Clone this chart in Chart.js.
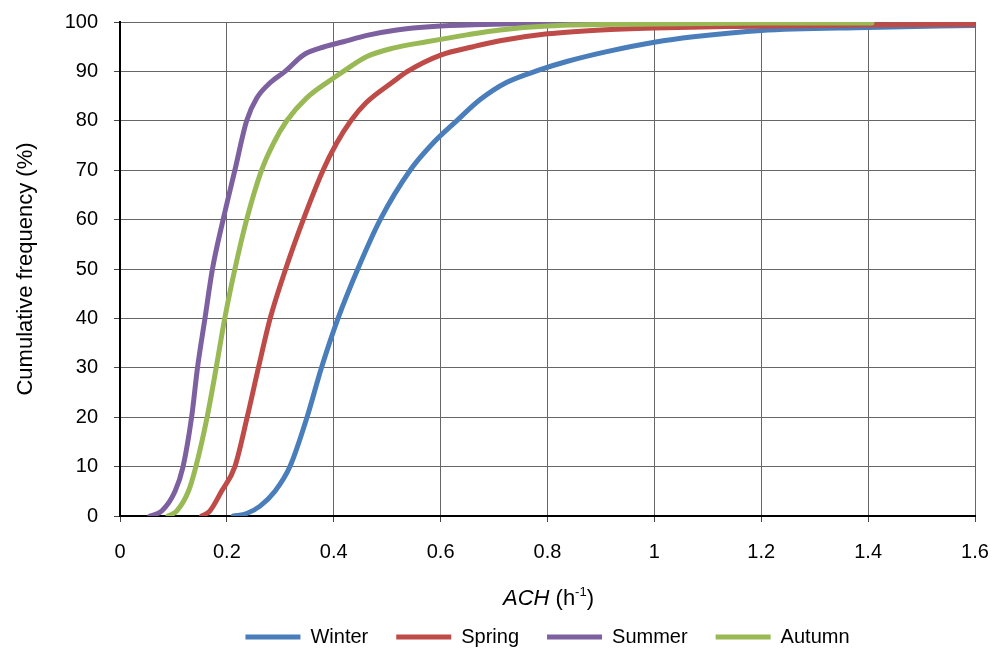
<!DOCTYPE html>
<html>
<head>
<meta charset="utf-8">
<script src="https://cdn.jsdelivr.net/npm/chart.js@4"></script>
<style>
  body { margin: 0; background: #fff; }
  #wrap { width: 995px; height: 653px; }
</style>
</head>
<body>
<div id="wrap"><canvas id="cdfChart" width="995" height="653"></canvas></div>
<script>
// series: ACH (h-1) against cumulative frequency (%)
const seriesNames = ["Winter", "Spring", "Summer", "Autumn"];

const winterAch  = [0.212, 0.237, 0.262, 0.29, 0.318, 0.35, 0.377, 0.408, 0.445, 0.487, 0.543, 0.586, 0.63, 0.674, 0.724, 0.785, 0.836, 0.911, 1.0, 1.073, 1.2, 1.4, 1.6];
const winterFreq = [0, 0.5, 2, 5, 10, 20, 30, 40, 50, 60, 70, 75.5, 80, 84.3, 87.8, 90.3, 92, 94, 95.9, 97, 98.3, 98.9, 99.3];

const springAch  = [0.153, 0.168, 0.19, 0.215, 0.238, 0.259, 0.281, 0.31, 0.343, 0.38, 0.405, 0.432, 0.46, 0.511, 0.538, 0.6, 0.661, 0.711, 0.8, 0.9, 1.0, 1.15, 1.4, 1.6];
const springFreq = [0, 1, 5, 10, 20, 30, 40, 50, 60, 70, 75.4, 80, 83.6, 87.9, 90, 93.3, 95, 96.2, 97.6, 98.4, 98.8, 99.1, 99.4, 99.5];

const summerAch  = [0.056, 0.078, 0.103, 0.118, 0.134, 0.145, 0.159, 0.173, 0.193, 0.215, 0.237, 0.256, 0.282, 0.309, 0.343, 0.374, 0.418, 0.462, 0.518, 0.586, 0.68, 0.8, 1.0];
const summerFreq = [0, 1, 5, 10, 20, 30, 40, 50, 60, 70, 80, 84.6, 87.8, 90, 93.3, 94.7, 96, 97.3, 98.4, 99.1, 99.5, 99.8, 100];

const autumnAch  = [0.09, 0.106, 0.128, 0.142, 0.163, 0.18, 0.196, 0.215, 0.237, 0.265, 0.287, 0.312, 0.349, 0.399, 0.418, 0.462, 0.511, 0.574, 0.649, 0.711, 0.8, 1.0, 1.2, 1.407];
const autumnFreq = [0, 1, 5, 10, 20, 30, 40, 50, 60, 70, 75.4, 80, 84.6, 88.6, 90, 93, 94.7, 96, 97.4, 98.4, 99.2, 99.6, 99.8, 99.8];

const xTicks = [0, 0.2, 0.4, 0.6, 0.8, 1, 1.2, 1.4, 1.6];
const yTicks = [0, 10, 20, 30, 40, 50, 60, 70, 80, 90, 100];

const seriesColors = ["#4a7ebb", "#be4b48", "#7d60a0", "#98b954"];
const FONT = "'Liberation Sans', Arial, sans-serif";

function toPoints(xs, ys) {
	return xs.map((x, i) => ({ x: x, y: ys[i] }));
}

const allSeries = [
	toPoints(winterAch, winterFreq),
	toPoints(springAch, springFreq),
	toPoints(summerAch, summerFreq),
	toPoints(autumnAch, autumnFreq),
];

// x title has italic part and a superscript, so draw it by hand
const xTitlePlugin = {
	id: "xTitle",
	afterDraw(chart) {
		const ctx = chart.ctx;
		const area = chart.chartArea;
		const y = 605;
		const parts = [
			{ text: "ACH", font: "italic 22px " + FONT, dy: 0 },
			{ text: " (h", font: "22px " + FONT, dy: 0 },
			{ text: "-1", font: "13px " + FONT, dy: -9 },
			{ text: ")", font: "22px " + FONT, dy: 0 },
		];
		ctx.save();
		ctx.fillStyle = "#000";
		ctx.textBaseline = "alphabetic";
		let total = 0;
		parts.forEach((p) => {
			ctx.font = p.font;
			p.w = ctx.measureText(p.text).width;
			total += p.w;
		});
		let x = (area.left + area.right) / 2 - total / 2 + 1;
		parts.forEach((p) => {
			ctx.font = p.font;
			ctx.fillText(p.text, x, y + p.dy);
			x += p.w;
		});
		ctx.restore();
	},
};

new Chart(document.getElementById("cdfChart"), {
	type: "scatter",
	data: {
		datasets: allSeries.map((pts, i) => ({
			label: seriesNames[i],
			data: pts,
			showLine: true,
			borderColor: seriesColors[i],
			backgroundColor: seriesColors[i],
			borderWidth: 5,
			pointRadius: 0,
			pointHoverRadius: 0,
			cubicInterpolationMode: "monotone",
			borderCapStyle: "round",
			order: seriesNames.length - i,
		})),
	},
	options: {
		responsive: false,
		animation: false,
		layout: { padding: { top: 22, right: 20, left: 0, bottom: -4 } },
		scales: {
			x: {
				type: "linear",
				min: 0,
				max: 1.6,
				afterBuildTicks: (scale) => { scale.ticks = xTicks.map((v) => ({ value: v })); },
				afterFit: (scale) => {
					scale.height = 83;
					scale.paddingLeft = 0;
					scale.paddingRight = 0;
				},
				ticks: {
					color: "#000",
					font: { family: FONT, size: 20 },
					padding: 18,
					callback: (v) => String(+v.toFixed(1)),
				},
				grid: { color: "#666", lineWidth: 1, tickLength: 6, tickColor: "#444" },
				border: { color: "#000", width: 2 },
			},
			y: {
				min: 0,
				max: 100,
				afterBuildTicks: (scale) => { scale.ticks = yTicks.map((v) => ({ value: v })); },
				afterFit: (scale) => {
					scale.width = 120;
					scale.paddingTop = 0;
					scale.paddingBottom = 0;
				},
				ticks: {
					color: "#000",
					font: { family: FONT, size: 20 },
					padding: 16,
				},
				grid: { color: "#666", lineWidth: 1, tickLength: 6, tickColor: "#444" },
				border: { color: "#000", width: 2 },
				title: {
					display: true,
					text: "Cumulative frequency (%)",
					color: "#000",
					font: { family: FONT, size: 22 },
					padding: { top: 13, bottom: 0 },
				},
			},
		},
		plugins: {
			tooltip: { enabled: false },
			legend: {
				position: "bottom",
				fullSize: false,
				labels: {
					color: "#000",
					font: { family: FONT, size: 20 },
					boxWidth: 55,
					boxHeight: 5,
					padding: 28,
					sort: (a, b) => a.datasetIndex - b.datasetIndex,
					generateLabels: (chart) =>
						Chart.defaults.plugins.legend.labels.generateLabels(chart).map((l) => ({
							...l,
							fillStyle: l.strokeStyle,
							lineWidth: 0,
						})),
				},
			},
		},
	},
	plugins: [xTitlePlugin],
});
</script>
</body>
</html>
